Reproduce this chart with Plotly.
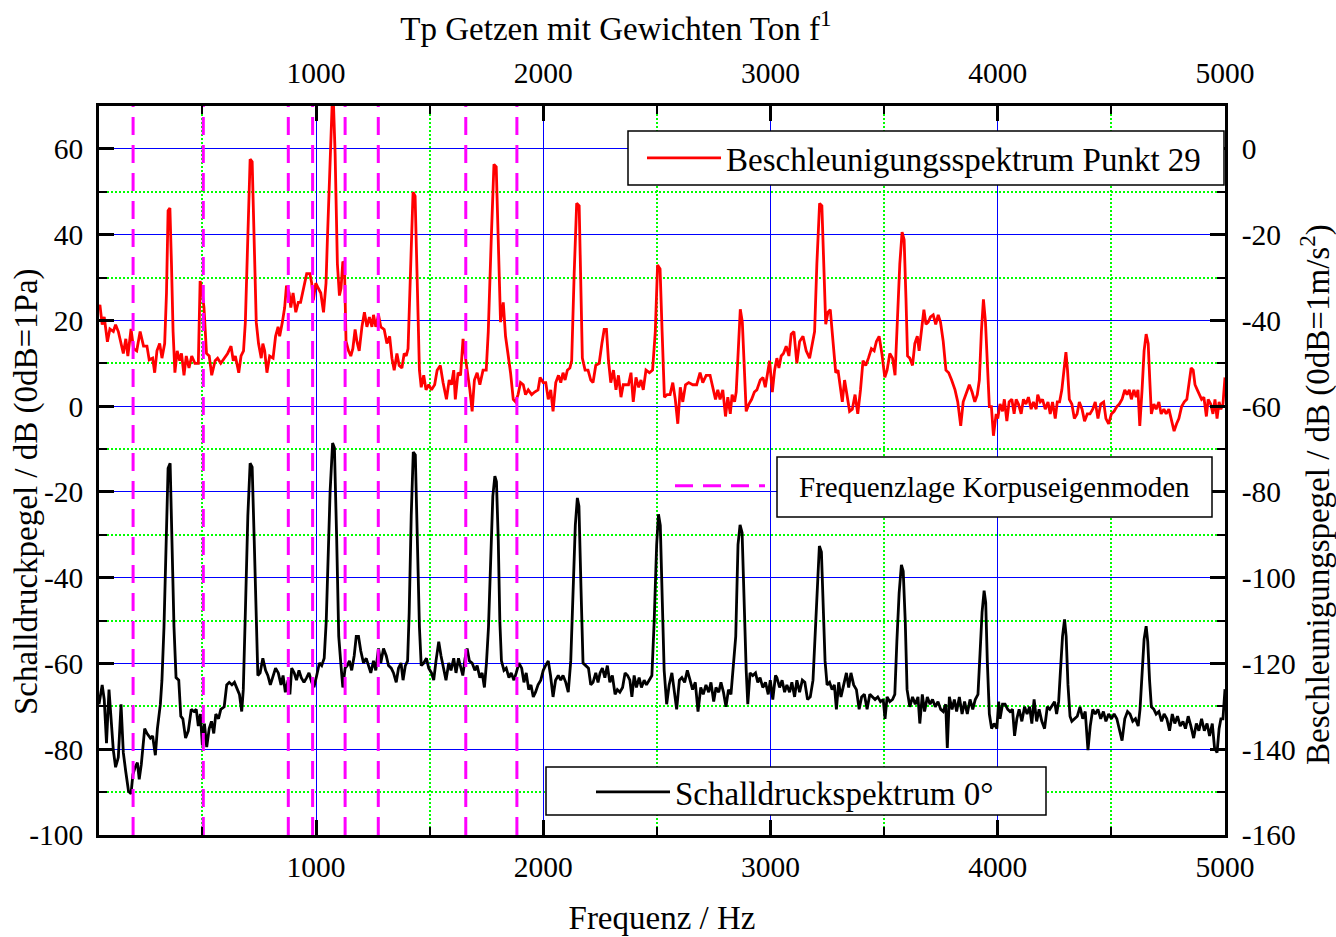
import plotly.graph_objects as go

# ---------------- data ----------------
# Beschleunigungsspektrum Punkt 29 (right axis, dB re 1 m/s^2)
acc_freq = [45, 49, 59, 68, 82, 93, 108, 118, 130, 141, 152, 163, 172, 186, 197, 211, 226, 241, 256, 266,
            281, 290, 300, 312, 322, 334, 342, 349, 357, 364, 371, 379, 389, 400, 408, 419, 429, 441, 453, 467,
            482, 490, 497, 507, 518, 530, 541, 556, 567, 581, 596, 611, 626, 636, 645, 660, 670, 681, 689, 700,
            710, 719, 726, 737, 747, 759, 766, 774, 784, 796, 811, 822, 833, 840, 852, 862, 870, 882, 889, 899,
            911, 922, 932, 944, 959, 973, 981, 988, 999, 1010, 1021, 1033, 1044, 1050, 1062, 1074, 1084, 1094, 1103, 1110,
            1118, 1125, 1132, 1143, 1153, 1162, 1172, 1180, 1190, 1202, 1213, 1224, 1235, 1246, 1253, 1263, 1275, 1285, 1300, 1312,
            1324, 1334, 1344, 1356, 1366, 1378, 1388, 1397, 1405, 1415, 1427, 1436, 1444, 1455, 1463, 1474, 1484, 1496, 1508, 1522,
            1533, 1547, 1559, 1574, 1586, 1596, 1606, 1613, 1625, 1636, 1647, 1655, 1665, 1677, 1687, 1697, 1709, 1721, 1735, 1749,
            1758, 1771, 1783, 1793, 1802, 1812, 1824, 1834, 1846, 1856, 1868, 1878, 1889, 1900, 1912, 1922, 1934, 1949, 1962, 1977,
            1986, 2000, 2011, 2022, 2033, 2043, 2055, 2067, 2077, 2087, 2096, 2106, 2117, 2125, 2136, 2147, 2158, 2165, 2172, 2184,
            2197, 2209, 2219, 2231, 2246, 2258, 2268, 2278, 2287, 2297, 2309, 2320, 2331, 2342, 2352, 2364, 2375, 2386, 2396, 2408,
            2420, 2430, 2440, 2452, 2467, 2481, 2493, 2503, 2514, 2523, 2533, 2545, 2558, 2570, 2581, 2592, 2603, 2614, 2626, 2640,
            2658, 2675, 2690, 2702, 2717, 2734, 2746, 2758, 2768, 2778, 2790, 2802, 2812, 2823, 2831, 2842, 2849, 2858, 2867, 2876,
            2884, 2893, 2905, 2917, 2929, 2940, 2955, 2967, 2977, 2986, 2996, 3008, 3018, 3028, 3037, 3047, 3057, 3069, 3081, 3091,
            3103, 3116, 3128, 3143, 3157, 3172, 3184, 3194, 3204, 3216, 3226, 3235, 3243, 3253, 3263, 3275, 3287, 3297, 3307, 3316,
            3326, 3337, 3348, 3360, 3372, 3384, 3396, 3407, 3419, 3431, 3444, 3456, 3466, 3478, 3490, 3503, 3513, 3525, 3537, 3548,
            3559, 3569, 3579, 3588, 3596, 3603, 3613, 3625, 3635, 3646, 3654, 3665, 3675, 3684, 3694, 3704, 3716, 3727, 3738, 3748,
            3760, 3772, 3784, 3797, 3812, 3824, 3837, 3848, 3863, 3875, 3887, 3899, 3910, 3919, 3928, 3937, 3946, 3954, 3963, 3972,
            3981, 3993, 4000, 4010, 4021, 4029, 4040, 4050, 4062, 4072, 4081, 4091, 4103, 4113, 4124, 4135, 4147, 4157, 4169, 4176,
            4187, 4197, 4209, 4221, 4231, 4241, 4253, 4262, 4272, 4282, 4291, 4300, 4307, 4315, 4326, 4337, 4349, 4359, 4371, 4382,
            4394, 4406, 4418, 4429, 4441, 4453, 4466, 4476, 4488, 4500, 4512, 4524, 4535, 4547, 4559, 4569, 4579, 4588, 4599, 4609,
            4617, 4625, 4635, 4644, 4653, 4662, 4669, 4676, 4687, 4697, 4709, 4719, 4731, 4741, 4753, 4765, 4776, 4787, 4797, 4809,
            4821, 4832, 4841, 4851, 4860, 4868, 4878, 4888, 4897, 4907, 4918, 4926, 4937, 4947, 4956, 4965, 4974, 4982, 4991, 5000]
acc_level = [-37, -36.4, -41, -39.2, -45, -42, -42.6, -41, -42.6, -45, -47.7, -44.3, -48.3, -42, -46.6, -47.1, -42.6, -46, -46, -49.2,
             -48.8, -52.2, -47.1, -45.4, -48.8, -45.4, -33.6, -14.4, -13.8, -27, -42.6, -52.2, -47.1, -49.4, -47.7, -52.8, -48.3, -51.1, -48.3, -50,
             -50, -30.8, -32.5, -37, -47.7, -48.3, -52.8, -49.4, -48.8, -50, -48.8, -47.7, -46, -49.4, -48.3, -52.2, -48.3, -47.1, -40.4, -17.8,
             -2.4, -3, -17.8, -40.4, -45.4, -48.8, -45.4, -47.1, -52.2, -48.3, -48.8, -43.7, -41.5, -43.7, -40.4, -37, -31.9, -33.6, -37, -33.6,
             -38.1, -35.8, -35.8, -32.5, -29.1, -29.1, -31.3, -35.3, -31.3, -32.5, -33.6, -38.1, -31.3, -21.2, -0.9, 15, -1, -26.8, -34.2, -32.5,
             -26.3, -26.8, -44.9, -47.1, -48.3, -46.6, -42.1, -44.9, -47.1, -41.5, -38.1, -41.5, -39.2, -41.5, -38.7, -41.5, -38.7, -41.5, -42.1, -45.4,
             -43.7, -48.8, -51.6, -47.7, -50.5, -51.1, -47.7, -48.3, -46.6, -29.1, -10.1, -11, -29.1, -51.6, -55.6, -52.8, -56.2, -55, -56.2, -55,
             -51.6, -50.5, -54.5, -58.4, -53.9, -55, -51.6, -58.4, -52.2, -52.8, -44.3, -47.1, -51.6, -56.2, -61.2, -53.9, -52.2, -55, -51.6, -51.6,
             -42.6, -21.2, -3.6, -4.2, -21.2, -40.4, -35.8, -43.7, -48.3, -52.2, -58.4, -59, -57.3, -54.5, -55, -57.3, -56.2, -57.3, -56.7, -56.2,
             -53.3, -54.5, -54.5, -58.4, -56.2, -61.2, -54.5, -52.8, -54.5, -52.2, -53.9, -51.6, -51.1, -49.4, -29.1, -12.7, -13.3, -29.1, -48.8, -51.6,
             -51.6, -53.9, -54.5, -50.5, -50, -45.4, -42.1, -42.1, -49.4, -54.5, -51.6, -56.2, -52.8, -57.9, -55, -55, -55, -52.2, -59, -53.3,
             -55.6, -53.9, -56.2, -51.6, -52.2, -51.6, -42.6, -27.1, -28, -42.6, -57.9, -57.3, -57.3, -54.5, -58.4, -64.1, -55.6, -59, -55, -54.5,
             -55, -55, -52.2, -54.5, -52.8, -52.8, -55.6, -58.4, -56.2, -58.4, -56.2, -62.4, -57.9, -61.8, -57.3, -59, -56.7, -46, -37.4, -40.4,
             -51.6, -61.2, -59.5, -58.4, -56.7, -56.2, -53.9, -53.3, -55.6, -52.8, -49.4, -56.7, -51.6, -48.8, -51.1, -48.3, -47.7, -46, -48.3, -43.2,
             -42.6, -50, -44.9, -43.7, -47.1, -48.8, -45.4, -42.6, -26.8, -12.7, -13.3, -26.8, -40.9, -38.1, -37.5, -44.9, -52.2, -51.6, -56.2, -59,
             -53.9, -57.3, -61.2, -60.7, -57.3, -61.8, -56.2, -49.4, -50.5, -48.8, -46.6, -47.1, -44.9, -43.7, -47.7, -53.3, -51.6, -47.7, -48.8, -52.8,
             -38.1, -26.8, -19.4, -21.2, -34.7, -48.3, -48.8, -50.5, -45.4, -43.7, -47.1, -41.5, -37.5, -40.9, -40.4, -39.2, -38.7, -40.9, -38.7, -40.4,
             -44.9, -51.6, -52.2, -53.9, -56.2, -59, -64.6, -59, -56.7, -55, -56.7, -59, -57.3, -53.9, -42.6, -35.1, -40.4, -51.6, -60.1, -60.1,
             -66.9, -61.8, -62.9, -59.5, -61.2, -58.4, -63.5, -59, -58.4, -61.8, -58.4, -59.5, -61.8, -58.4, -59.5, -57.9, -60.7, -59, -60.7, -57.3,
             -59, -58.4, -60.7, -59, -61.8, -59, -62.9, -59, -59, -56.2, -51.6, -47.4, -51.6, -58.4, -59.5, -62.9, -61.8, -59, -60.7, -63.5,
             -61.8, -61.8, -60.7, -59, -62.9, -59.5, -59, -62.9, -64.1, -61.8, -61.2, -60.1, -59.5, -58.4, -56.2, -57.3, -56.2, -58.4, -56.2, -57.9,
             -56.2, -64.6, -56.2, -47.1, -43.2, -45.4, -53.9, -61.8, -59.5, -60.7, -59, -61.8, -60.7, -61.8, -60.7, -63.5, -65.8, -64.1, -62.9, -60.1,
             -59, -58.4, -55, -51.1, -51.6, -55, -56.2, -57.3, -58.4, -57.9, -62.4, -58.4, -59.5, -61.8, -58.4, -62.9, -59, -60.7, -59.5, -53.3]

# Schalldruckspektrum 0 deg (left axis, dB re 1 Pa)
spl_freq = [45, 52, 59, 68, 78, 89, 98, 108, 118, 130, 142, 152, 163, 175, 186, 194, 204, 214, 222, 231,
            246, 256, 271, 281, 293, 302, 315, 322, 331, 340, 349, 358, 367, 375, 384, 396, 405, 414, 426, 438,
            451, 463, 473, 482, 491, 500, 509, 519, 530, 540, 550, 559, 571, 581, 596, 607, 618, 630, 641, 651,
            663, 673, 680, 689, 700, 710, 719, 728, 737, 744, 754, 766, 778, 788, 799, 811, 822, 834, 846, 855,
            865, 877, 885, 893, 904, 914, 925, 935, 947, 959, 969, 981, 991, 1003, 1015, 1025, 1036, 1045, 1052, 1062,
            1073, 1081, 1091, 1100, 1109, 1118, 1128, 1138, 1147, 1157, 1168, 1177, 1187, 1197, 1209, 1221, 1231, 1241, 1253, 1263,
            1275, 1285, 1297, 1309, 1319, 1331, 1341, 1353, 1363, 1374, 1383, 1393, 1403, 1410, 1419, 1428, 1437, 1446, 1455, 1463,
            1474, 1486, 1496, 1508, 1518, 1528, 1540, 1550, 1562, 1572, 1584, 1594, 1606, 1616, 1627, 1636, 1646, 1656, 1665, 1675,
            1687, 1699, 1709, 1721, 1731, 1741, 1750, 1759, 1768, 1778, 1787, 1794, 1802, 1809, 1816, 1827, 1837, 1849, 1859, 1871,
            1881, 1893, 1905, 1915, 1925, 1936, 1946, 1956, 1966, 1977, 1989, 2000, 2010, 2022, 2032, 2043, 2054, 2066, 2077, 2087,
            2099, 2110, 2121, 2131, 2141, 2150, 2157, 2166, 2175, 2187, 2199, 2209, 2219, 2231, 2241, 2250, 2260, 2271, 2282, 2293,
            2304, 2316, 2326, 2337, 2349, 2360, 2371, 2381, 2390, 2400, 2410, 2422, 2432, 2444, 2454, 2466, 2478, 2488, 2499, 2507,
            2515, 2524, 2532, 2543, 2554, 2566, 2576, 2587, 2599, 2610, 2622, 2634, 2646, 2657, 2669, 2681, 2693, 2704, 2716, 2728,
            2738, 2750, 2760, 2772, 2782, 2793, 2804, 2815, 2826, 2837, 2847, 2857, 2866, 2875, 2884, 2893, 2900, 2910, 2922, 2934,
            2944, 2954, 2966, 2978, 2990, 2999, 3010, 3022, 3028, 3040, 3051, 3062, 3072, 3084, 3094, 3106, 3116, 3128, 3140, 3151,
            3163, 3175, 3187, 3197, 3206, 3215, 3224, 3231, 3240, 3249, 3260, 3271, 3281, 3290, 3300, 3310, 3322, 3334, 3344, 3354,
            3366, 3378, 3390, 3401, 3413, 3425, 3437, 3449, 3460, 3472, 3484, 3496, 3504, 3513, 3525, 3537, 3547, 3556, 3566, 3576,
            3584, 3593, 3601, 3613, 3625, 3637, 3649, 3657, 3668, 3678, 3690, 3702, 3713, 3725, 3737, 3749, 3760, 3771, 3778, 3787,
            3799, 3809, 3819, 3831, 3843, 3854, 3866, 3878, 3890, 3901, 3913, 3922, 3931, 3940, 3947, 3954, 3963, 3973, 3984, 3996,
            4004, 4010, 4021, 4032, 4044, 4054, 4065, 4074, 4084, 4094, 4106, 4118, 4129, 4140, 4150, 4160, 4171, 4182, 4194, 4206,
            4218, 4229, 4241, 4250, 4259, 4268, 4276, 4285, 4294, 4301, 4309, 4318, 4326, 4338, 4350, 4362, 4374, 4385, 4397, 4407,
            4418, 4429, 4441, 4453, 4465, 4476, 4488, 4500, 4512, 4524, 4535, 4547, 4559, 4571, 4582, 4594, 4606, 4618, 4626, 4635,
            4644, 4653, 4660, 4668, 4676, 4687, 4697, 4709, 4721, 4732, 4744, 4756, 4768, 4779, 4791, 4803, 4815, 4826, 4838, 4850,
            4862, 4874, 4885, 4897, 4909, 4921, 4932, 4944, 4954, 4965, 4974, 4982, 4991, 5000]
spl_level = [-69.5, -66.7, -65, -68.4, -78.6, -66.1, -72.9, -80.2, -84.2, -81.9, -69.5, -80.8, -85.3, -89.8, -90.4, -85.9, -84.2, -83.1, -87, -83.6,
             -75.2, -76.3, -77.4, -76.9, -81.4, -75.2, -69.5, -63.9, -51.5, -34.5, -14.5, -13.3, -32.3, -51.5, -63.3, -63.9, -72.3, -72.9, -77.4, -75.7,
             -70.7, -71.2, -70.7, -74.6, -71.8, -79.1, -74, -79.5, -75.2, -73.5, -76.3, -71.8, -72.9, -70.7, -70.1, -65, -64.4, -65, -64.4, -65.5,
             -67.2, -71.2, -66.1, -48.1, -25.5, -13.3, -14.2, -31.2, -50.3, -62.8, -62.2, -58.8, -61.6, -62.8, -65, -62.8, -61.1, -62.2, -65, -62.8,
             -66.7, -63.9, -67.2, -61.1, -62.2, -63.9, -61.6, -63.3, -64.4, -63.3, -62.2, -64.4, -65.5, -62.8, -59.9, -60.5, -58.8, -50, -36.8, -19.9,
             -8.6, -9.7, -31.2, -53.7, -59.9, -65.6, -61.1, -60.5, -59.4, -61.6, -58.2, -53.7, -53.7, -57.1, -59.9, -58.8, -60.5, -62.2, -59.4, -61.6,
             -56.5, -59.9, -56.5, -58.2, -60.5, -61.1, -62.2, -64.4, -61.1, -59.9, -63.9, -60.5, -59.4, -48.1, -25.5, -10.7, -11.4, -31.2, -51.5, -60.5,
             -59.9, -58.8, -61.1, -62.2, -63.9, -59.4, -54.9, -58.2, -61.1, -63.9, -59.9, -61.6, -58.8, -62.2, -58.8, -60.5, -62.8, -58.8, -56.5, -59.4,
             -59.9, -61.6, -60.5, -63.3, -62.2, -65.6, -59.9, -51.5, -36.8, -21, -16.3, -17.6, -31.2, -50.3, -59.4, -61.6, -61.1, -63.3, -62.2, -63.9,
             -62.2, -59.9, -61.1, -64.4, -62.2, -66.1, -65, -67.8, -66.7, -65, -63.9, -61.6, -60.5, -59.4, -62.8, -67.8, -63.9, -62.8, -63.9, -62.8,
             -64.4, -66.7, -59.4, -43.6, -27.8, -21.4, -23.3, -42.4, -59.9, -60.5, -61.1, -65, -64.4, -62.2, -64.4, -62.2, -61.1, -63.3, -60.5, -64.4,
             -62.8, -67.2, -66.1, -66.7, -65.6, -62.2, -62.8, -63.9, -67.8, -62.8, -65.6, -63.3, -65.6, -63.9, -65, -63.9, -62.8, -50.3, -32.3, -25.2,
             -27.8, -45.8, -61.6, -69.5, -65, -62.2, -66.1, -70.7, -63.9, -63.3, -64.4, -61.6, -63.9, -66.1, -64.4, -71.2, -65.6, -67.2, -65, -66.7,
             -64.4, -68.9, -65.6, -66.7, -64.4, -66.7, -70.1, -66.1, -67.2, -59.4, -53.7, -32.3, -27.7, -29.5, -48.1, -61.6, -69.5, -62.2, -62.8, -62.2,
             -64.4, -63.3, -65.6, -64.4, -67.2, -63.9, -68.4, -62.8, -63.3, -65.6, -63.9, -66.7, -65, -66.7, -64.4, -67.8, -63.9, -66.7, -63.9, -64.4,
             -68.4, -67.8, -63.9, -52.6, -40.2, -32.6, -34, -43.6, -59.4, -65, -64.4, -66.1, -65, -70.7, -64.4, -67.8, -65, -62.2, -65.6, -62.2,
             -65, -66.1, -70.7, -67.8, -67.2, -70.7, -67.2, -67.8, -68.4, -67.8, -68.9, -68.4, -72.9, -67.8, -68.9, -68.4, -67.2, -54.9, -43.6, -37,
             -38.5, -50.3, -66.1, -70.1, -67.8, -69.5, -67.8, -74, -67.2, -71.2, -67.8, -69.5, -68.4, -70.1, -68.9, -70.7, -71.2, -69.5, -79.7, -67.8,
             -70.7, -68.4, -71.2, -67.8, -71.8, -68.9, -71.8, -68.4, -70.7, -68.4, -67.2, -57.7, -48.1, -43, -45.8, -59.4, -71.8, -75.2, -74, -75.2,
             -68.9, -72.9, -69.5, -69.5, -70.7, -71.2, -70.7, -76.9, -72.9, -70.7, -73.5, -70.1, -71.8, -70.1, -74, -68.4, -73.5, -70.7, -73.5, -75.2,
             -70.1, -70.7, -69.5, -68.9, -71.8, -68.9, -61.6, -53.7, -49.7, -53.7, -65, -72.3, -73.5, -72.9, -72.3, -70.1, -72.9, -71.2, -80.2, -74.6,
             -70.7, -71.8, -70.7, -72.9, -71.2, -73.5, -71.8, -72.9, -71.8, -72.9, -75.2, -78, -72.9, -71.2, -71.8, -73.5, -72.9, -74.6, -70.7, -62.8,
             -54.3, -51.3, -54.9, -63.9, -70.1, -70.7, -71.8, -71.2, -73.5, -71.8, -72.9, -75.7, -71.8, -74, -72.3, -74.6, -73.5, -75.2, -72.3, -74.6,
             -77.4, -74, -75.7, -72.9, -75.7, -74, -76.9, -74, -79.7, -80.8, -75.2, -72.9, -72.9, -66]

# Frequenzlage Korpuseigenmoden (Hz)
mode_freq = [195, 504, 878, 985, 1128, 1274, 1659, 1884]

x_ticks = [1000, 2000, 3000, 4000, 5000]
x_minor_ticks = [500, 1500, 2500, 3500, 4500]
y_left_ticks = [-100, -80, -60, -40, -20, 0, 20, 40, 60]
y_left_text = ["-100", "-80", "-60", "-40", "-20", "0", "20", "40", "60"]
y_left_minor = [-90, -70, -50, -30, -10, 10, 30, 50]
y_right_ticks = [-160, -140, -120, -100, -80, -60, -40, -20, 0]
y_right_text = ["-160", "-140", "-120", "-100", "-80", "-60", "-40", "-20", "0"]
y_right_minor = [-150, -130, -110, -90, -70, -50, -30, -10]

X_RANGE = [45, 5000]
Y_LEFT_RANGE = [-100, 70]
Y_RIGHT_RANGE = [-160, 10]

# ---------------- figure ----------------
FONT = "Liberation Serif"
FS_TICK = 29.5
FS = 33
FS_LEG2 = 29
NB = "\u00a0"
fig = go.Figure()

mx, my = [], []
for f in mode_freq:
    mx += [f, f, None]
    my += [Y_LEFT_RANGE[0], Y_LEFT_RANGE[1], None]

fig.add_trace(go.Scatter(x=mx, y=my, mode="lines", xaxis="x2", yaxis="y",
                         line=dict(color="#ff00ff", width=3, dash="18px,10px"),
                         name=NB * 4 + "Frequenzlage Korpuseigenmoden", legend="legend2"))
fig.add_trace(go.Scatter(x=spl_freq, y=spl_level, mode="lines", xaxis="x", yaxis="y",
                         line=dict(color="black", width=2.8),
                         name="Schalldruckspektrum 0°", legend="legend3"))
fig.add_trace(go.Scatter(x=acc_freq, y=acc_level, mode="lines", xaxis="x", yaxis="y2",
                         line=dict(color="#ff0000", width=2.8),
                         name="Beschleunigungsspektrum Punkt 29", legend="legend"))

tickfont = dict(family=FONT, size=FS_TICK, color="black")
minor_grid_color = "#00ff00"
minor_dash = "2px,2px"
minor_style = dict(ticks="inside", ticklen=8, tickwidth=2, tickcolor="black")
common_x = dict(range=X_RANGE, tickmode="array", tickvals=x_ticks, ticks="inside", ticklen=15,
                tickwidth=2.5, tickcolor="black", showline=True, linecolor="black", linewidth=2.5,
                tickfont=tickfont, zeroline=False)

fig.update_layout(
    template="none",
    width=1336, height=937,
    margin=dict(l=99, r=111, t=106, b=102),
    paper_bgcolor="white", plot_bgcolor="white",
    showlegend=True,
    font=dict(family=FONT, size=FS, color="black"),
    title=dict(text="Tp Getzen mit Gewichten Ton f<sup>1</sup>", x=0.461, xanchor="center",
               y=1 - 28 / 937, yanchor="middle", font=dict(family=FONT, size=FS)),
    xaxis=dict(**common_x, ticklabelstandoff=4,
               showgrid=True, gridcolor="#0000ff", gridwidth=1.3,
               minor=dict(tickmode="array", tickvals=x_minor_ticks, **minor_style,
                          showgrid=True, gridcolor=minor_grid_color, griddash=minor_dash, gridwidth=1.5),
               title=dict(text="Frequenz / Hz", font=dict(family=FONT, size=FS), standoff=24)),
    xaxis2=dict(**common_x, overlaying="x", side="top", anchor="y", showgrid=False, ticklabelstandoff=8,
                minor=dict(tickmode="array", tickvals=x_minor_ticks, **minor_style, showgrid=False)),
    yaxis=dict(range=Y_LEFT_RANGE, tickmode="array", tickvals=y_left_ticks, ticktext=y_left_text,
               ticks="inside", ticklen=15, tickwidth=2.5, tickcolor="black",
               showline=True, linecolor="black", linewidth=2.5, tickfont=tickfont, zeroline=False,
               showgrid=True, gridcolor="#0000ff", gridwidth=1.3, ticklabelstandoff=7,
               minor=dict(tickmode="array", tickvals=y_left_minor, **minor_style,
                          showgrid=True, gridcolor=minor_grid_color, griddash=minor_dash, gridwidth=1.5)),
    yaxis2=dict(range=Y_RIGHT_RANGE, overlaying="y", side="right", anchor="x",
                tickmode="array", tickvals=y_right_ticks, ticktext=y_right_text,
                ticks="inside", ticklen=15, tickwidth=2.5, tickcolor="black",
                showline=True, linecolor="black", linewidth=2.5, tickfont=tickfont, zeroline=False,
                showgrid=False, ticklabelstandoff=8,
                minor=dict(tickmode="array", tickvals=y_right_minor, **minor_style, showgrid=False)),
    legend=dict(x=(642 - 99) / 1126, y=(835 - 158) / 729, xanchor="left", yanchor="middle",
                bgcolor="rgba(0,0,0,0)", borderwidth=0, font=dict(family=FONT, size=FS), itemwidth=74),
    legend2=dict(x=(670 - 99) / 1126, y=(835 - 486) / 729, xanchor="left", yanchor="middle",
                 bgcolor="rgba(0,0,0,0)", borderwidth=0, font=dict(family=FONT, size=FS_LEG2), itemwidth=90),
    legend3=dict(x=(591 - 99) / 1126, y=(835 - 792) / 729, xanchor="left", yanchor="middle",
                 bgcolor="rgba(0,0,0,0)", borderwidth=0, font=dict(family=FONT, size=FS), itemwidth=74),
    annotations=[
        dict(text="Schalldruckpegel / dB (0dB=1Pa)", xref="paper", yref="paper",
             x=(27 - 99) / 1126, y=(835 - 492) / 729, xanchor="center", yanchor="middle",
             textangle=-90, showarrow=False, font=dict(family=FONT, size=FS)),
        dict(text="Beschleunigungspegel / dB (0dB=1m/s<sup>2</sup>)", xref="paper", yref="paper",
             x=(1315 - 99) / 1126, y=(835 - 495) / 729, xanchor="center", yanchor="middle",
             textangle=-90, showarrow=False, font=dict(family=FONT, size=FS)),
    ],
    shapes=[
        dict(type="rect", xref="paper", yref="paper", x0=(628 - 99) / 1126, x1=(1224 - 99) / 1126,
             y0=(835 - 185) / 729, y1=(835 - 131) / 729, fillcolor="white",
             line=dict(color="black", width=1.5), layer="above"),
        dict(type="rect", xref="paper", yref="paper", x0=(777 - 99) / 1126, x1=(1212 - 99) / 1126,
             y0=(835 - 517) / 729, y1=(835 - 457) / 729, fillcolor="white",
             line=dict(color="black", width=1.5), layer="above"),
        dict(type="rect", xref="paper", yref="paper", x0=(546 - 99) / 1126, x1=(1046 - 99) / 1126,
             y0=(835 - 815) / 729, y1=(835 - 767) / 729, fillcolor="white",
             line=dict(color="black", width=1.5), layer="above"),
    ],
)

fig.write_html("out.html")
